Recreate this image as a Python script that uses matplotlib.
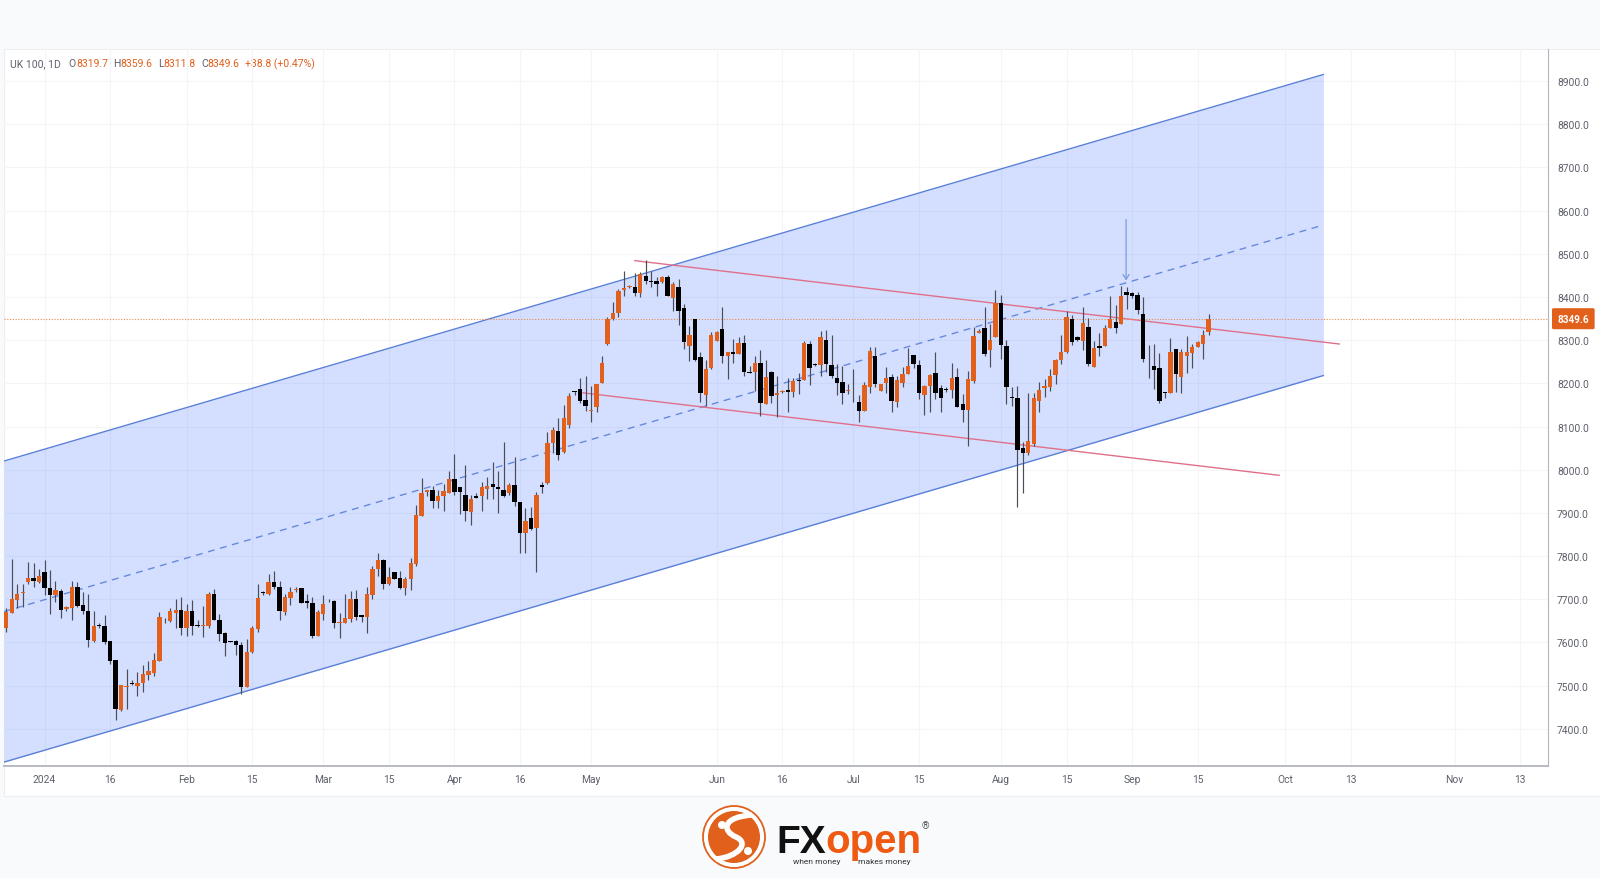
import matplotlib
matplotlib.use('Agg')
from matplotlib import pyplot as plt
from matplotlib.patches import Circle, PathPatch, Rectangle
from matplotlib.path import Path
from matplotlib.transforms import blended_transform_factory

opens = [7633, 7669, 7699, 7714, 7740, 7750, 7740, 7764, 7727, 7710,
         7720, 7677, 7680, 7729, 7687, 7672, 7604, 7641, 7639, 7603,
         7559, 7444, 7497, 7506, 7500, 7506, 7525, 7530, 7557, 7652,
         7650, 7668, 7675, 7633, 7672, 7641, 7638, 7637, 7712, 7653,
         7622, 7604, 7603, 7594, 7497, 7577, 7631, 7716, 7712, 7739,
         7729, 7670, 7703, 7722, 7725, 7695, 7692, 7614, 7666, 7697,
         7697, 7646, 7644, 7655, 7701, 7663, 7659, 7710, 7769, 7791,
         7736, 7762, 7749, 7726, 7746, 7781, 7893, 7949, 7952, 7927,
         7939, 7947, 7979, 7960, 7941, 7901, 7940, 7940, 7956, 7966,
         7959, 7953, 7946, 7965, 7925, 7854, 7888, 7865, 7965, 7969,
         8062, 8089, 8040, 8104, 8183, 8186, 8161, 8136, 8146, 8200,
         8290, 8348, 8362, 8416, 8422, 8424, 8409, 8449, 8436, 8438,
         8434, 8447, 8398, 8422, 8375, 8287, 8348, 8261, 8172, 8235,
         8299, 8326, 8264, 8273, 8268, 8294, 8226, 8226, 8247, 8152,
         8227, 8172, 8180, 8184, 8179, 8207, 8208, 8292, 8245, 8243,
         8300, 8243, 8213, 8202, 8182, 8158, 8156, 8137, 8191, 8264,
         8183, 8200, 8215, 8156, 8200, 8222, 8266, 8243, 8173, 8193,
         8224, 8189, 8187, 8185, 8215, 8152, 8139, 8205, 8316, 8328,
         8277, 8307, 8386, 8287, 8168, 8167, 8051, 8038, 8059, 8158,
         8189, 8191, 8219, 8255, 8272, 8349, 8307, 8299, 8330, 8238,
         8287, 8286, 8327, 8341, 8337, 8411, 8408, 8405, 8361, 8250,
         8239, 8235, 8179, 8178, 8279, 8215, 8264, 8270, 8284, 8292,
         8319.7]
closes = [7670, 7701, 7713, 7716, 7750, 7743, 7755, 7726, 7710, 7721,
          7675, 7682, 7729, 7685, 7672, 7606, 7637, 7639, 7601, 7558,
          7446, 7502, 7499, 7503, 7506, 7526, 7534, 7559, 7658, 7651,
          7672, 7675, 7634, 7673, 7637, 7639, 7640, 7712, 7651, 7620,
          7599, 7601, 7593, 7497, 7577, 7634, 7702, 7714, 7739, 7728,
          7672, 7705, 7716, 7724, 7692, 7692, 7614, 7670, 7688, 7695,
          7645, 7648, 7657, 7701, 7659, 7660, 7712, 7770, 7791, 7736,
          7751, 7747, 7726, 7746, 7784, 7894, 7945, 7952, 7928, 7940,
          7951, 7979, 7949, 7949, 7905, 7932, 7935, 7959, 7962, 7959,
          7956, 7939, 7965, 7926, 7854, 7881, 7862, 7942, 7961, 8061,
          8092, 8033, 8119, 8170, 8181, 8158, 8147, 8139, 8198, 8246,
          8349, 8363, 8414, 8421, 8426, 8409, 8453, 8436, 8435, 8429,
          8447, 8403, 8429, 8368, 8295, 8313, 8253, 8177, 8233, 8311,
          8318, 8264, 8272, 8267, 8294, 8227, 8224, 8247, 8155, 8215,
          8170, 8178, 8182, 8181, 8205, 8206, 8293, 8235, 8243, 8308,
          8245, 8216, 8201, 8177, 8184, 8160, 8135, 8196, 8274, 8199,
          8199, 8212, 8158, 8208, 8222, 8239, 8244, 8177, 8193, 8219,
          8177, 8166, 8185, 8212, 8146, 8139, 8210, 8309, 8322, 8268,
          8301, 8386, 8289, 8192, 8165, 8046, 8039, 8066, 8165, 8185,
          8194, 8216, 8253, 8273, 8353, 8295, 8301, 8339, 8245, 8282,
          8282, 8328, 8349, 8327, 8401, 8404, 8401, 8370, 8256, 8249,
          8231, 8158, 8177, 8272, 8222, 8272, 8272, 8283, 8296, 8312,
          8349.6]
highs = [7679, 7794, 7736, 7736, 7787, 7783, 7769, 7790, 7767, 7743,
         7723, 7685, 7742, 7740, 7716, 7712, 7674, 7645, 7664, 7604,
         7560, 7502, 7539, 7512, 7531, 7547, 7558, 7576, 7670, 7657,
         7679, 7701, 7705, 7689, 7699, 7651, 7684, 7716, 7724, 7666,
         7624, 7604, 7606, 7602, 7607, 7639, 7736, 7720, 7759, 7766,
         7742, 7712, 7728, 7728, 7726, 7712, 7705, 7676, 7709, 7701,
         7699, 7668, 7712, 7720, 7722, 7663, 7729, 7777, 7806, 7793,
         7774, 7763, 7765, 7751, 7795, 7918, 7980, 7953, 7962, 7953,
         7967, 7996, 8037, 7961, 8011, 7942, 7946, 7971, 7983, 8017,
         7996, 8063, 7969, 8029, 7926, 7911, 7914, 7948, 7971, 8087,
         8098, 8120, 8150, 8178, 8183, 8212, 8218, 8193, 8199, 8263,
         8353, 8389, 8419, 8461, 8428, 8455, 8457, 8486, 8459, 8446,
         8449, 8451, 8434, 8442, 8384, 8332, 8349, 8273, 8253, 8318,
         8321, 8376, 8272, 8303, 8307, 8312, 8241, 8264, 8276, 8254,
         8229, 8218, 8184, 8212, 8212, 8224, 8297, 8297, 8246, 8320,
         8324, 8312, 8245, 8241, 8199, 8232, 8174, 8202, 8283, 8283,
         8199, 8237, 8222, 8218, 8237, 8281, 8266, 8253, 8197, 8222,
         8273, 8197, 8191, 8246, 8235, 8175, 8229, 8330, 8326, 8376,
         8337, 8415, 8405, 8300, 8191, 8193, 8063, 8178, 8177, 8202,
         8210, 8233, 8256, 8312, 8368, 8357, 8310, 8376, 8351, 8299,
         8317, 8335, 8401, 8382, 8425, 8424, 8411, 8411, 8399, 8289,
         8291, 8270, 8181, 8304, 8279, 8280, 8310, 8291, 8299, 8324,
         8359.6]
lows = [7625, 7669, 7679, 7682, 7736, 7728, 7738, 7709, 7666, 7693,
        7656, 7674, 7651, 7682, 7665, 7590, 7602, 7634, 7597, 7549,
        7420, 7442, 7445, 7502, 7476, 7485, 7514, 7522, 7557, 7645,
        7647, 7634, 7618, 7616, 7618, 7635, 7612, 7634, 7651, 7604,
        7568, 7600, 7572, 7480, 7497, 7575, 7625, 7710, 7710, 7724,
        7652, 7664, 7686, 7718, 7691, 7680, 7610, 7614, 7652, 7694,
        7634, 7610, 7644, 7647, 7653, 7647, 7622, 7701, 7755, 7724,
        7732, 7746, 7724, 7709, 7722, 7778, 7893, 7940, 7911, 7911,
        7905, 7946, 7942, 7898, 7882, 7873, 7934, 7905, 7932, 7932,
        7900, 7936, 7942, 7917, 7807, 7807, 7861, 7763, 7946, 7966,
        8039, 8023, 8038, 8097, 8172, 8154, 8137, 8111, 8133, 8200,
        8289, 8347, 8353, 8403, 8421, 8403, 8399, 8430, 8422, 8403,
        8433, 8402, 8367, 8335, 8280, 8251, 8251, 8156, 8148, 8232,
        8299, 8246, 8210, 8247, 8268, 8218, 8223, 8183, 8125, 8152,
        8155, 8121, 8178, 8133, 8168, 8175, 8208, 8195, 8241, 8216,
        8226, 8212, 8172, 8151, 8175, 8156, 8110, 8137, 8178, 8191,
        8183, 8178, 8133, 8146, 8191, 8222, 8235, 8164, 8127, 8133,
        8164, 8133, 8181, 8165, 8146, 8111, 8054, 8200, 8316, 8264,
        8237, 8307, 8256, 8152, 8148, 7913, 7945, 8035, 8056, 8133,
        8168, 8183, 8199, 8245, 8270, 8289, 8297, 8276, 8241, 8237,
        8264, 8286, 8327, 8317, 8337, 8371, 8397, 8361, 8250, 8212,
        8187, 8155, 8166, 8178, 8181, 8177, 8224, 8235, 8283, 8256,
        8311.8]

x_ticks = [7, 19, 33, 45, 58, 70, 82, 94, 107, 130, 142, 155, 167, 182, 194, 206, 218, 234, 246, 265, 277]
x_labels = ['2024', '16', 'Feb', '15', 'Mar', '15', 'Apr', '16', 'May', 'Jun', '16', 'Jul', '15',
            'Aug', '15', 'Sep', '15', 'Oct', '13', 'Nov', '13']
y_ticks = [7400, 7500, 7600, 7700, 7800, 7900, 8000, 8100, 8200, 8300, 8400, 8500, 8600, 8700, 8800, 8900]

# drawn lines, (bar, price) at each end
channel_x = [-0.42, 241]
channel_top = [8020, 8915]
channel_mid = [7671.5, 8566.5]
channel_bot = [7323, 8218]
red_top_x = [115, 243.9]
red_top_y = [8484, 8291]
red_bot_x = [105.5, 232.9]
red_bot_y = [8178, 7987]
last_price = closes[-1]

ORANGE = '#e0601c'
BLUE = '#5a80d8'
RED = '#e0708a'
GREY = '#5d606b'

plt.rcParams['font.family'] = ['Roboto', 'DejaVu Sans']

fig = plt.figure(figsize=(16, 8.79), dpi=100, facecolor='#f9fafc')

# page background and logo, in pixels
bg = fig.add_axes([0, 0, 1, 1], zorder=0)
bg.set_xlim(0, 1600)
bg.set_ylim(879, 0)
bg.axis('off')
bg.add_patch(Rectangle((4, 50), 1596, 747, facecolor='white', edgecolor='#eceef2', lw=0.8))

bg.add_patch(Circle((734, 838), 31, facecolor='white', edgecolor=ORANGE, lw=1.3))
bg.add_patch(Circle((734, 838), 26, facecolor=ORANGE, edgecolor='none'))
swirl = Path([(752, 816), (722, 818), (722, 832), (736, 838), (750, 844), (738, 858), (716, 860)],
             [Path.MOVETO, Path.CURVE4, Path.CURVE4, Path.CURVE4, Path.CURVE4, Path.CURVE4, Path.CURVE4])
bg.add_patch(PathPatch(swirl, facecolor='none', edgecolor='white', lw=4))
bg.add_patch(Circle((722, 826), 4, facecolor='white', edgecolor='none'))
bg.add_patch(Circle((748, 852), 4, facecolor='white', edgecolor='none'))
bg.text(776, 853, 'FX', fontsize=28, fontweight='bold', color='#111111', family='Liberation Sans',
        va='baseline', ha='left')
bg.text(825, 853, 'open', fontsize=29, fontweight='bold', color='#ee5a12', family='Liberation Sans',
        va='baseline', ha='left')
bg.text(793, 864, 'when money', fontsize=6, color='#333333', va='baseline', ha='left')
bg.text(858, 864, 'makes money', fontsize=6, color='#333333', va='baseline', ha='left')
bg.text(925, 826, '\u00ae', fontsize=7, color='#555555', va='center', ha='center')

# chart
x_left, x_right = 4, 1548
y_top, y_bottom = 50, 767
ax = fig.add_axes([x_left / 1600, 1 - y_bottom / 879, (x_right - x_left) / 1600, (y_bottom - y_top) / 879],
                  zorder=1)
ax.patch.set_alpha(0)
ax.set_xlim(-0.42, 282.1)
ax.set_ylim(7314, 8974)

ax.set_xticks(x_ticks)
ax.set_xticklabels(x_labels)
ax.set_yticks(y_ticks)
ax.set_yticklabels(['%.1f' % v for v in y_ticks])
ax.yaxis.tick_right()
ax.tick_params(axis='both', length=0, labelsize=7.4, labelcolor=GREY)
ax.tick_params(axis='y', pad=6.5)
ax.tick_params(axis='x', pad=5.5)
ax.grid(True, color='#f3f5f9', lw=0.8)
ax.set_axisbelow(True)
for side in ['top', 'left']:
    ax.spines[side].set_visible(False)
ax.spines['right'].set_color('#b2b5be')
ax.spines['bottom'].set_color('#b2b5be')
ax.spines['bottom'].set_linewidth(1.3)

ax.fill_between(channel_x, channel_bot, channel_top, color='#2962ff', alpha=0.2, lw=0, zorder=1)
ax.plot(channel_x, channel_top, color=BLUE, lw=1.0, zorder=2)
ax.plot(channel_x, channel_bot, color=BLUE, lw=1.0, zorder=2)
ax.plot(channel_x, channel_mid, color=BLUE, lw=1.0, ls=(0, (5, 4)), alpha=0.9, zorder=2)
ax.plot(red_top_x, red_top_y, color=RED, lw=1.0, zorder=2)
ax.plot(red_bot_x, red_bot_y, color=RED, lw=1.0, zorder=2)
ax.axhline(last_price, color='#e98a4e', lw=0.8, ls=(0, (1, 1.5)), zorder=2)

# candles
bars = list(range(len(opens)))
ax.vlines(bars, lows, highs, color='#4a4d55', lw=0.85, zorder=3)
for i in bars:
    up = closes[i] >= opens[i]
    ax.bar(i, abs(closes[i] - opens[i]), bottom=min(opens[i], closes[i]), width=0.8,
           color=ORANGE if up else '#000000', lw=0, zorder=4)

ax.annotate('', xy=(204.9, 8438), xytext=(204.9, 8579), zorder=5,
            arrowprops=dict(arrowstyle='->,head_length=0.35,head_width=0.22', color='#7b9bdc', lw=0.9,
                            shrinkA=0, shrinkB=0))

# legend line
head = [(10, 'UK 100, 1D', GREY), (68, 'O', GREY), (76, '8319.7', ORANGE), (113, 'H', GREY), (120, '8359.6', ORANGE),
        (158, 'L', GREY), (163, '8311.8', ORANGE), (201, 'C', GREY), (207, '8349.6', ORANGE),
        (245, '+38.8 (+0.47%)', ORANGE)]
for hx, txt, col in head:
    bg.text(hx, 64, txt, fontsize=7.5, color=col, va='center', ha='left')

# price label on the scale
tr = blended_transform_factory(ax.transAxes, ax.transData)
ax.text(1 + 9.5 / (x_right - x_left), last_price, '%.1f' % last_price, transform=tr, color='white', fontsize=7.2,
        fontweight='bold', va='center', ha='left', zorder=6, clip_on=False,
        bbox=dict(boxstyle='round,pad=0.55,rounding_size=0.15', facecolor=ORANGE, edgecolor='none'))

plt.savefig('out.png', dpi=100, facecolor=fig.get_facecolor())
